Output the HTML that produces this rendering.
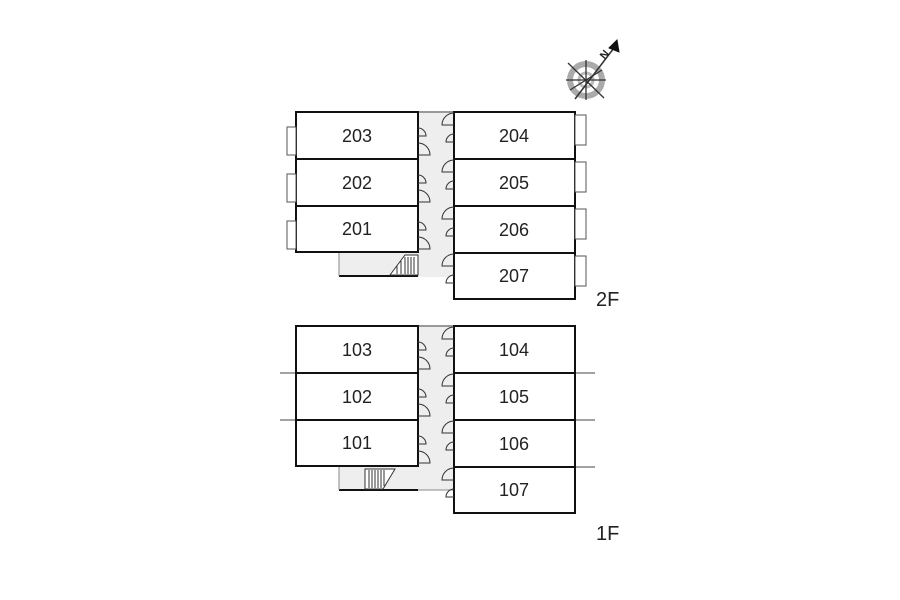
<!DOCTYPE html>
<html><head><meta charset="utf-8"><style>
html,body{margin:0;padding:0;background:#fff;width:900px;height:600px;overflow:hidden}
text{font-family:"Liberation Sans",sans-serif;fill:#222}
</style></head><body>
<svg width="900" height="600" viewBox="0 0 900 600" xmlns="http://www.w3.org/2000/svg">
<g fill="none" stroke="#111">
<!-- 2F corridor & stair -->
<rect x="418" y="112" width="36" height="165" fill="#eee" stroke="none"/>
<rect x="339" y="252" width="79" height="24" fill="#eee" stroke="none"/>
<line x1="339" y1="276" x2="418" y2="276" stroke-width="2"/>
<line x1="339" y1="252" x2="339" y2="276" stroke="#888"/>
<line x1="418" y1="112" x2="454" y2="112" stroke="#999" stroke-width="2"/>
<path d="M390,275 L405,255 L418,255 L418,275 Z" fill="#fff" stroke="#333"/>
<g stroke="#333"><line x1="405" y1="257" x2="405" y2="274"/><line x1="408" y1="257" x2="408" y2="274"/><line x1="411" y1="257" x2="411" y2="274"/><line x1="414" y1="257" x2="414" y2="274"/><line x1="401" y1="261" x2="401" y2="274"/><line x1="397" y1="266" x2="397" y2="274"/></g>
<g stroke-width="2" fill="#fff">
<rect x="296" y="112" width="122" height="47"/><rect x="296" y="159" width="122" height="47"/><rect x="296" y="206" width="122" height="46"/>
<rect x="454" y="112" width="121" height="47"/><rect x="454" y="159" width="121" height="47"/><rect x="454" y="206" width="121" height="47"/><rect x="454" y="253" width="121" height="46"/>
</g>
<g stroke="#555" fill="#fff">
<rect x="287" y="127" width="9" height="28"/><rect x="287" y="174" width="9" height="28"/><rect x="287" y="221" width="9" height="28"/>
<rect x="575" y="115" width="11" height="30"/><rect x="575" y="162" width="11" height="30"/><rect x="575" y="209" width="11" height="30"/><rect x="575" y="256" width="11" height="30"/>
</g>
<g stroke="#333" stroke-width="1">
<path d="M418,128 A8,8 0 0 1 426,136 L418,136"/><path d="M418,143 A12,12 0 0 1 430,155 L418,155"/>
<path d="M418,175 A8,8 0 0 1 426,183 L418,183"/><path d="M418,190 A12,12 0 0 1 430,202 L418,202"/>
<path d="M418,222 A8,8 0 0 1 426,230 L418,230"/><path d="M418,237 A12,12 0 0 1 430,249 L418,249"/>
<path d="M454,113 A12,12 0 0 0 442,125 L454,125"/><path d="M454,134 A8,8 0 0 0 446,142 L454,142"/>
<path d="M454,160 A12,12 0 0 0 442,172 L454,172"/><path d="M454,181 A8,8 0 0 0 446,189 L454,189"/>
<path d="M454,207 A12,12 0 0 0 442,219 L454,219"/><path d="M454,228 A8,8 0 0 0 446,236 L454,236"/>
<path d="M454,254 A12,12 0 0 0 442,266 L454,266"/><path d="M454,275 A8,8 0 0 0 446,283 L454,283"/>
</g>

<!-- 1F -->
<rect x="418" y="326" width="36" height="164" fill="#eee" stroke="none"/>
<rect x="339" y="466" width="115" height="24" fill="#eee" stroke="none"/>
<line x1="339" y1="490" x2="418" y2="490" stroke-width="2"/>
<line x1="418" y1="490" x2="454" y2="490" stroke="#888"/>
<line x1="339" y1="466" x2="339" y2="490" stroke="#888"/>
<line x1="418" y1="326" x2="454" y2="326" stroke="#999" stroke-width="2"/>
<path d="M365,469 L395,469 L383,489 L365,489 Z" fill="#fff" stroke="#333"/>
<g stroke="#333"><line x1="369" y1="470" x2="369" y2="488"/><line x1="372" y1="470" x2="372" y2="488"/><line x1="375" y1="470" x2="375" y2="488"/><line x1="378" y1="470" x2="378" y2="488"/><line x1="381" y1="470" x2="381" y2="488"/><line x1="384" y1="470" x2="384" y2="486"/></g>
<g stroke="#444">
<line x1="280" y1="373" x2="296" y2="373"/><line x1="280" y1="420" x2="296" y2="420"/>
<line x1="575" y1="373" x2="595" y2="373"/><line x1="575" y1="420" x2="595" y2="420"/><line x1="575" y1="467" x2="595" y2="467"/>
</g>
<g stroke-width="2" fill="#fff">
<rect x="296" y="326" width="122" height="47"/><rect x="296" y="373" width="122" height="47"/><rect x="296" y="420" width="122" height="46"/>
<rect x="454" y="326" width="121" height="47"/><rect x="454" y="373" width="121" height="47"/><rect x="454" y="420" width="121" height="47"/><rect x="454" y="467" width="121" height="46"/>
</g>
<g stroke="#333" stroke-width="1">
<path d="M418,342 A8,8 0 0 1 426,350 L418,350"/><path d="M418,357 A12,12 0 0 1 430,369 L418,369"/>
<path d="M418,389 A8,8 0 0 1 426,397 L418,397"/><path d="M418,404 A12,12 0 0 1 430,416 L418,416"/>
<path d="M418,436 A8,8 0 0 1 426,444 L418,444"/><path d="M418,451 A12,12 0 0 1 430,463 L418,463"/>
<path d="M454,327 A12,12 0 0 0 442,339 L454,339"/><path d="M454,348 A8,8 0 0 0 446,356 L454,356"/>
<path d="M454,374 A12,12 0 0 0 442,386 L454,386"/><path d="M454,395 A8,8 0 0 0 446,403 L454,403"/>
<path d="M454,421 A12,12 0 0 0 442,433 L454,433"/><path d="M454,442 A8,8 0 0 0 446,450 L454,450"/>
<path d="M454,468 A12,12 0 0 0 442,480 L454,480"/><path d="M454,489 A8,8 0 0 0 446,497 L454,497"/>
</g>

<!-- compass -->
<circle cx="586" cy="80" r="16" stroke="#aaa" stroke-width="6"/>
<circle cx="586" cy="80" r="7" stroke="#bbb" stroke-width="3"/>
<g stroke="#333" stroke-width="1.3">
<line x1="568" y1="63" x2="604" y2="98"/><line x1="570" y1="90" x2="602" y2="70"/>
<line x1="586" y1="60" x2="586" y2="100"/><line x1="566" y1="80" x2="606" y2="80"/>
<line x1="575" y1="99" x2="617" y2="44" stroke-width="1.5"/>
</g>
<polygon points="617,40 619,52 609,48" fill="#111"/>
</g>
<text x="601" y="58" font-size="11" font-weight="bold" transform="rotate(-50 605 55)">N</text>
<g font-size="18" text-anchor="middle">
<text x="357" y="142">203</text><text x="357" y="189">202</text><text x="357" y="235">201</text>
<text x="514" y="142">204</text><text x="514" y="189">205</text><text x="514" y="236">206</text><text x="514" y="282">207</text>
<text x="357" y="356">103</text><text x="357" y="403">102</text><text x="357" y="449">101</text>
<text x="514" y="356">104</text><text x="514" y="403">105</text><text x="514" y="450">106</text><text x="514" y="496">107</text>
</g>
<text x="596" y="306" font-size="20">2F</text>
<text x="596" y="540" font-size="20">1F</text>
</svg>
</body></html>
